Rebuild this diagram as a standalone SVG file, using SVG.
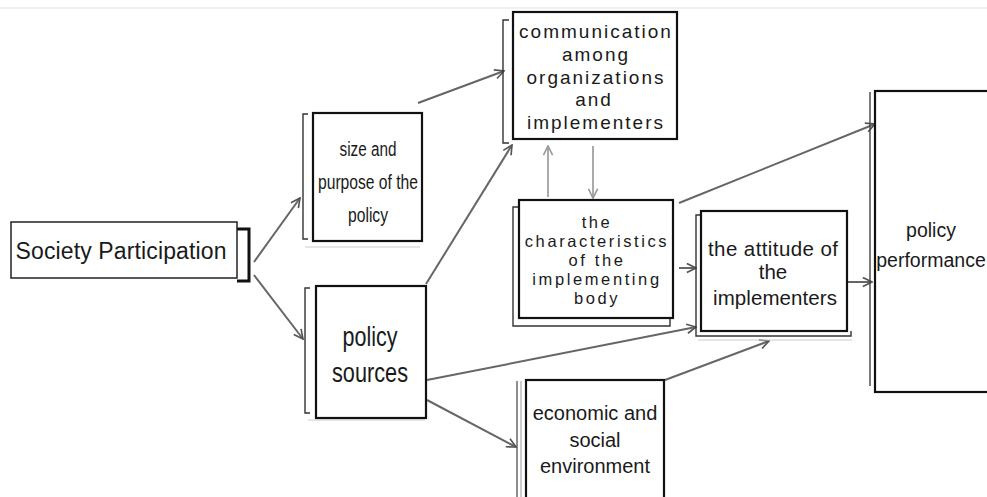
<svg xmlns="http://www.w3.org/2000/svg" width="987" height="497" viewBox="0 0 987 497">
<defs>
<marker id="arr" viewBox="0 0 12 12" refX="11" refY="6" markerWidth="11" markerHeight="11" markerUnits="userSpaceOnUse" orient="auto">
<path d="M1,1 L11,6 L1,11" fill="none" stroke="#555" stroke-width="1.8"/>
</marker>
<marker id="arrL" viewBox="0 0 12 12" refX="11" refY="6" markerWidth="11" markerHeight="11" markerUnits="userSpaceOnUse" orient="auto">
<path d="M1,1 L11,6 L1,11" fill="none" stroke="#999" stroke-width="1.8"/>
</marker>
</defs>
<style>
.box{fill:#fff;stroke:#111;stroke-width:2.2}
.sh{fill:none;stroke:#333;stroke-width:1.4}
.lt{fill:none;stroke:#ccc;stroke-width:1.2}
.t{font-family:"Liberation Sans",Arial,sans-serif;fill:#1a1a1a;text-anchor:middle}
.cm{font-size:19px;letter-spacing:2px}
.ch{font-size:16.5px;letter-spacing:2.6px}
.c{stroke:#666;stroke-width:2;fill:none;marker-end:url(#arr)}
.cl{stroke:#aaa;stroke-width:2;fill:none;marker-end:url(#arrL)}
</style>
<rect width="987" height="497" fill="#fff"/>
<line x1="0" y1="8" x2="987" y2="8" stroke="#e2e2e2" stroke-width="1.2"/>

<g id="connectors">
<line class="c" x1="254" y1="262" x2="300" y2="198"/>
<line class="c" x1="254" y1="275" x2="303" y2="339"/>
<line class="c" x1="418" y1="103" x2="504" y2="71"/>
<line class="c" x1="426" y1="284" x2="512" y2="145"/>
<line class="cl" x1="548" y1="197" x2="548" y2="146"/>
<line class="cl" x1="593" y1="146" x2="593" y2="198"/>
<line class="c" x1="679" y1="203" x2="875" y2="124"/>
<line class="c" x1="679" y1="268" x2="696" y2="268"/>
<line class="c" x1="427" y1="380" x2="696" y2="327"/>
<line class="c" x1="427" y1="400" x2="516" y2="447"/>
<line class="c" x1="665" y1="380" x2="769" y2="341"/>
<line class="c" x1="848" y1="282" x2="872" y2="282"/>
</g>

<g id="society">
<path d="M237,229 H249 V281 H237" fill="none" stroke="#111" stroke-width="3"/>
<rect x="11" y="222" width="226" height="56" fill="#fff" stroke="#222" stroke-width="1.5"/>
<text class="t" x="121" y="259" font-size="23" textLength="211">Society Participation</text>
</g>

<g id="size">
<path class="sh" d="M308,114 H303 V239 H308"/>
<line class="lt" x1="305" y1="247" x2="420" y2="247"/>
<rect class="box" x="313" y="113" width="109" height="128"/>
<text class="t" x="368" y="156" font-size="20" textLength="57" lengthAdjust="spacingAndGlyphs">size and</text>
<text class="t" x="368" y="189" font-size="20" textLength="100" lengthAdjust="spacingAndGlyphs">purpose of the</text>
<text class="t" x="368" y="222" font-size="20" textLength="40" lengthAdjust="spacingAndGlyphs">policy</text>
</g>

<g id="sources">
<path class="sh" d="M310,288 H305 V413 H310"/>
<line class="lt" x1="308" y1="420" x2="425" y2="420"/>
<rect class="box" x="316" y="286" width="110" height="132"/>
<text class="t" x="370" y="346" font-size="27" textLength="55" lengthAdjust="spacingAndGlyphs">policy</text>
<text class="t" x="370" y="382" font-size="27" textLength="76" lengthAdjust="spacingAndGlyphs">sources</text>
</g>

<g id="communication">
<path class="sh" d="M509,20 H503 V143 H509"/>
<rect class="box" x="513" y="12" width="164" height="127"/>
<text class="t cm" x="596" y="38">communication</text>
<text class="t cm" x="596" y="61">among</text>
<text class="t cm" x="596" y="84">organizations</text>
<text class="t cm" x="594" y="106">and</text>
<text class="t cm" x="596" y="129">implementers</text>
</g>

<g id="characteristics">
<path class="sh" d="M519,207 H513 V326 H670 V318"/>
<rect class="box" x="519" y="200" width="154" height="118" stroke-width="1.8"/>
<text class="t ch" x="597" y="228">the</text>
<text class="t ch" x="597" y="247">characteristics</text>
<text class="t ch" x="597" y="266">of the</text>
<text class="t ch" x="597" y="285">implementing</text>
<text class="t ch" x="597" y="304">body</text>
</g>

<g id="attitude">
<path class="sh" d="M701,215 H696 V336 H851 V331"/>
<line class="lt" x1="698" y1="340" x2="852" y2="340"/>
<rect class="box" x="701" y="211" width="146" height="120"/>
<text class="t" x="773" y="256" font-size="20.5" textLength="130">the attitude of</text>
<text class="t" x="773" y="279" font-size="20.5">the</text>
<text class="t" x="775" y="305" font-size="20.5" textLength="124">implementers</text>
</g>

<g id="performance">
<line x1="870" y1="92" x2="870" y2="386" stroke="#444" stroke-width="1.4"/>
<rect class="box" x="875" y="91" width="130" height="301" stroke-width="1.8"/>
<text class="t" x="931" y="237" font-size="19.5">policy</text>
<text class="t" x="931" y="267" font-size="19.5">performance</text>
</g>

<g id="economic">
<line x1="517" y1="381" x2="517" y2="497" stroke="#444" stroke-width="1.2"/>
<line x1="521" y1="381" x2="521" y2="497" stroke="#999" stroke-width="1"/>
<rect class="box" x="526" y="380" width="138" height="130" stroke-width="1.8"/>
<text class="t" x="595" y="420" font-size="20">economic and</text>
<text class="t" x="595" y="447" font-size="20">social</text>
<text class="t" x="595" y="473" font-size="20">environment</text>
</g>
</svg>
